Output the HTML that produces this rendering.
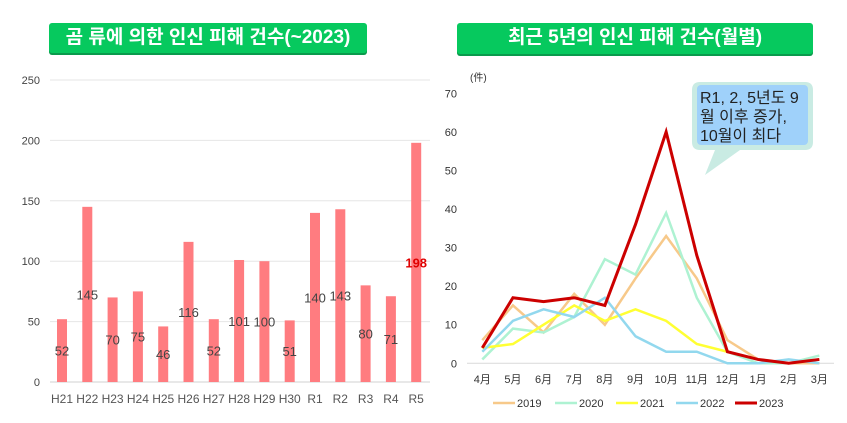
<!DOCTYPE html>
<html><head><meta charset="utf-8"><style>
body{margin:0;width:847px;height:423px;background:#fff;overflow:hidden;font-family:"Liberation Sans","Noto Sans CJK KR",sans-serif}
.banner{position:absolute;background:#06c95e;color:#fff;font-weight:bold;font-size:19px;text-align:center;line-height:30px;border-radius:3px;box-shadow:0 2px 0 #0a9a4c;font-family:"Liberation Sans","Noto Sans CJK KR",sans-serif}
svg{position:absolute;left:0;top:0}
</style></head><body>
<div class="banner" style="left:49px;top:23px;width:318px;height:30px">곰 류에 의한 인신 피해 건수(~2023)</div>
<div class="banner" style="left:457px;top:23px;width:356px;height:31px">최근 5년의 인신 피해 건수(월별)</div>
<svg id="c" width="847" height="423"></svg>
<script>
const barCats=["H21","H22","H23","H24","H25","H26","H27","H28","H29","H30","R1","R2","R3","R4","R5"];
const barVals=[52,145,70,75,46,116,52,101,100,51,140,143,80,71,198];
const barTicks=[0,50,100,150,200,250];
const months=["4月","5月","6月","7月","8月","9月","10月","11月","12月","1月","2月","3月"];
const lineTicks=[0,10,20,30,40,50,60,70];
const s2019=[6,15,8,18,10,22,33,22,6,1,0,0];
const s2020=[1,9,8,12,27,23,39,17,3,0,0,2];
const s2021=[4,5,10,15,11,14,11,5,3,1,0,1];
const s2022=[3,11,14,12,17,7,3,3,0,0,1,0];
const s2023=[4,17,16,17,15,36,60,28,3,1,0,1];
const seriesNames=["2019","2020","2021","2022","2023"];
const NS="http://www.w3.org/2000/svg";
const svg=document.getElementById('c');
function mk(t,a,txt){const e=document.createElementNS(NS,t);for(const k in a)e.setAttribute(k,a[k]);if(txt!=null)e.textContent=txt;svg.appendChild(e);return e;}
const FF='"Liberation Sans","Noto Sans CJK KR",sans-serif';
const by=v=>382-v*(302/250);
const bx=i=>62+i*25.3;
barTicks.forEach(t=>{
  const l=mk('line',{x1:50,x2:430,y1:by(t),y2:by(t),stroke:t===0?'#d0d0d0':'#e6e6e6','stroke-width':1});
  
  
  const tx=mk('text',{x:40,y:by(t)+4,'text-anchor':'end','font-size':11,fill:'#444','font-family':FF},t);
  
  
});
barVals.forEach((v,i)=>{
  const r=mk('rect',{x:bx(i)-5,y:by(v),width:10,height:382-by(v),fill:'#ff7c80'});
  
  
  const last=i===barVals.length-1;
  const lb=mk('text',{x:bx(i),y:(by(v)+382)/2+5,'text-anchor':'middle','font-size':13,'font-weight':last?'bold':'normal',fill:last?'#e00000':'#444','font-family':FF},v);
  
  
  const c=mk('text',{x:bx(i),y:403,'text-anchor':'middle','font-size':12,fill:'#555','font-family':FF},barCats[i]);
  
  
});
const ly=v=>363.3-v*(270/70);
const lx=i=>482.3+i*30.64;
const yu=mk('text',{x:470,y:81,'font-size':10,fill:'#333','font-family':FF},'(件)');


lineTicks.forEach(t=>{
  const tx=mk('text',{x:457,y:ly(t)+4,'text-anchor':'end','font-size':11,fill:'#333','font-family':FF},t);
  
  
});
const ax=mk('line',{x1:467,x2:834,y1:ly(0),y2:ly(0),stroke:'#d9d9d9','stroke-width':1});


months.forEach((m,i)=>{
  const tx=mk('text',{x:lx(i),y:383,'text-anchor':'middle','font-size':11,fill:'#333','font-family':FF},m);
  
  
});
const allS=[s2019,s2020,s2021,s2022,s2023];
const cols=['#f7c98a','#aef2d2','#ffff33','#92d8ee','#cc0000'];
const widths=[2.5,2.5,2.5,2.5,3];
allS.forEach((s,k)=>{
  const p=mk('polyline',{points:s.map((v,i)=>lx(i)+','+ly(v)).join(' '),fill:'none',stroke:cols[k],'stroke-width':widths[k],'stroke-linejoin':'miter'});
  
  
});
const legX=[493,555,616,676,735];
seriesNames.forEach((n,k)=>{
  const l=mk('line',{x1:legX[k],x2:legX[k]+22,y1:403,y2:403,stroke:cols[k],'stroke-width':k===4?3:2.5});
  
  
  const t=mk('text',{x:legX[k]+24,y:407,'font-size':11,fill:'#333','font-family':FF},n);
  
  
});
const cp=mk('path',{d:'M700 82 H805 Q813 82 813 90 V142 Q813 150 805 150 H740 L705 175 L715 150 H700 Q692 150 692 142 V90 Q692 82 700 82 Z',fill:'#c9ebe3'});


const cr=mk('rect',{x:697,y:85,width:111,height:60,rx:4,fill:'#9fd1fa'});


["R1, 2, 5년도 9","월 이후 증가,","10월이 최다"].forEach((t,i)=>{
  const tx=mk('text',{x:700,y:103+i*19,'font-size':16,fill:'#222','font-family':FF},t);
  
  
});
</script>
</body></html>
